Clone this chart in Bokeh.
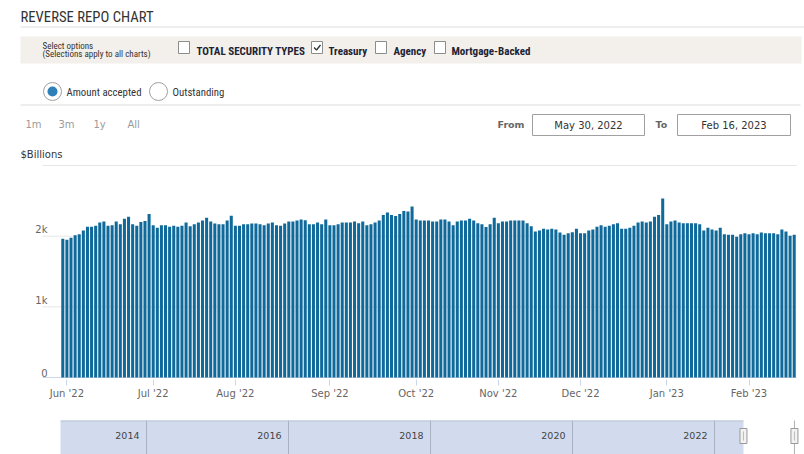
import pandas as pd
from bokeh.plotting import figure
from bokeh.layouts import column
from bokeh.models import Range1d, FixedTicker
from bokeh.core.properties import value
from bokeh.embed import file_html
from bokeh.resources import INLINE

# ---------------- data ----------------
holidays = ["2022-05-30", "2022-06-20", "2022-07-04", "2022-09-05", "2022-10-10",
            "2022-11-11", "2022-11-24", "2022-12-26", "2023-01-02", "2023-01-16"]
first_day = "2022-05-31"
last_day = "2023-02-16"

# Treasury reverse repo, amount accepted ($ billions), one value per operation day
amounts = [
    1962, 1948, 1976, 2014, 2028, 2080, 2132, 2132, 2147, 2194,
    2208, 2147, 2156, 2208, 2170, 2246, 2274, 2170, 2147, 2199,
    2213, 2312, 2156, 2118, 2156, 2156, 2132, 2147, 2132, 2147,
    2194, 2142, 2170, 2194, 2222, 2260, 2208, 2180, 2170, 2170,
    2222, 2288, 2147, 2147, 2170, 2170, 2180, 2180, 2170, 2156,
    2180, 2194, 2156, 2147, 2180, 2208, 2208, 2222, 2236, 2227,
    2170, 2170, 2194, 2170, 2236, 2156, 2156, 2170, 2194, 2194,
    2194, 2208, 2184, 2208, 2156, 2170, 2194, 2222, 2298, 2336,
    2298, 2284, 2312, 2355, 2350, 2421, 2236, 2222, 2222, 2222,
    2208, 2208, 2236, 2236, 2208, 2156, 2208, 2222, 2222, 2246,
    2222, 2184, 2170, 2128, 2170, 2260, 2184, 2208, 2208, 2222,
    2222, 2222, 2222, 2184, 2142, 2066, 2080, 2104, 2095, 2104,
    2095, 2052, 2019, 2043, 2057, 2104, 2043, 2043, 2080, 2095,
    2132, 2156, 2132, 2147, 2170, 2184, 2104, 2104, 2118, 2147,
    2194, 2208, 2194, 2208, 2274, 2298, 2534, 2170, 2208, 2222,
    2194, 2184, 2184, 2184, 2184, 2170, 2080, 2118, 2095, 2080,
    2118, 2028, 2019, 2019, 1991, 2028, 2043, 2028, 2043, 2028,
    2052, 2043, 2043, 2043, 2028, 2095, 2066, 2005, 2019,
]

y_tick_values = [0, 1000, 2000]
y_tick_labels = ["0", "1k", "2k"]
grid_values = [1000, 2000, 3000]

nav_years = [2014, 2016, 2018, 2020, 2022]
nav_data_start = "2012-10-16"
sel_start = "2022-05-30"
sel_end = "2023-02-16"

# ---------------- derived ----------------
dates = [d for d in pd.bdate_range(first_day, last_day) if d.strftime("%Y-%m-%d") not in holidays]
idx = list(range(len(dates)))
month_idx = [i for i in idx if i > 0 and dates[i].month != dates[i - 1].month]
month_lbl = {i: dates[i].strftime("%b '%y") for i in month_idx}


def dec_year(s):
    t = pd.Timestamp(s)
    y0 = pd.Timestamp(year=t.year, month=1, day=1)
    y1 = pd.Timestamp(year=t.year + 1, month=1, day=1)
    return t.year + (t - y0) / (y1 - y0)


NARROW = value("Roboto Condensed, DejaVu Sans Condensed, Roboto")
DJ = value("DejaVu Sans")
W = 804

# ---------------- header (page pixel coords) ----------------
hdr = figure(width=W, height=160, x_range=Range1d(0, 804), y_range=Range1d(160, 0),
             x_axis_type=None, y_axis_type=None, toolbar_location=None,
             output_backend="svg", min_border=0, outline_line_color=None)

hdr.text(x=[20], y=[16.5], text=["REVERSE REPO CHART"], text_font=NARROW,
         text_font_size="14.7px", text_color="#333333", text_baseline="middle")
hdr.segment(x0=[20, 20], x1=[804, 800], y0=[26.5, 104.5], y1=[26.5, 104.5],
            line_color="#dddddd", line_width=1)
hdr.quad(left=[20], right=[801], top=[36], bottom=[63], fill_color="#f3f0eb", line_color=None)
hdr.text(x=[42, 42], y=[45.5, 53.5], text=["Select options", "(Selections apply to all charts)"],
         text_font=NARROW, text_font_size="9px", text_color="#333333", text_baseline="middle")
hdr.rect(x=[183.5, 316.5, 380.5, 439.5], y=[47, 47, 47, 47], width=11, height=12,
         fill_color="white", line_color="#8c8c8c", line_width=1)
hdr.line(x=[313.5, 316, 320], y=[47, 49.5, 44.5], line_color="#333333", line_width=1.3)
hdr.text(x=[196, 328, 393, 451], y=[50.5] * 4,
         text=["TOTAL SECURITY TYPES", "Treasury", "Agency", "Mortgage-Backed"],
         text_font=NARROW, text_font_style="bold", text_font_size="11px",
         text_color="#222233", text_baseline="middle")

hdr.scatter(x=[52, 158], y=[91, 91], size=18, marker="circle",
            fill_color="white", line_color="#a0a0a0", line_width=1)
hdr.scatter(x=[52], y=[91], size=10, marker="circle", fill_color="#2f7fb8", line_color=None)
hdr.text(x=[66, 172], y=[91.5, 91.5], text=["Amount accepted", "Outstanding"],
         text_font=NARROW, text_font_size="10.8px", text_color="#333333", text_baseline="middle")

hdr.text(x=[25, 58, 93, 127], y=[123.5] * 4, text=["1m", "3m", "1y", "All"],
         text_font=DJ, text_font_size="10px", text_color="#9a9a9a", text_baseline="middle")
hdr.text(x=[497, 655], y=[123.5, 123.5], text=["From", "To"], text_font=DJ,
         text_font_style="bold", text_font_size="9.5px", text_color="#666666",
         text_baseline="middle")
hdr.quad(left=[532, 677], right=[644, 790], top=[114, 114], bottom=[135, 135],
         fill_color="white", line_color="#a0a0a0", line_width=1)
hdr.text(x=[588, 733.5], y=[124.5, 124.5], text=["May 30, 2022", "Feb 16, 2023"],
         text_font=DJ, text_font_size="10px", text_color="#333333",
         text_align="center", text_baseline="middle")
hdr.text(x=[20], y=[154], text=["$Billions"], text_font=DJ, text_font_size="10px",
         text_color="#333333", text_baseline="middle")

# ---------------- main chart ----------------
X0, X1 = -15.162, 180.506
grid_left, grid_right = -4.94, 178.6
ch = figure(width=W, height=244, x_range=Range1d(X0, X1), y_range=Range1d(-28.3, 3028.3),
            y_axis_type=None, toolbar_location=None, output_backend="svg",
            min_border_left=0, min_border_right=0, min_border_top=3, min_border_bottom=25,
            outline_line_color=None)
ch.xgrid.visible = False
ch.segment(x0=[grid_left] * len(grid_values), x1=[grid_right] * len(grid_values),
           y0=grid_values, y1=grid_values, line_color="#e6e6e6", line_width=1)
ch.segment(x0=[grid_left], x1=[grid_right], y0=[0], y1=[0], line_color="#ccd6eb", line_width=1)
ch.vbar(x=idx, top=amounts, bottom=0, width=0.74, fill_color="#0f6a9b", line_color=None)
ch.text(x=[grid_left] * 3, y=y_tick_values, text=y_tick_labels, x_offset=5, y_offset=-1,
        text_align="right", text_baseline="bottom", text_font=DJ, text_font_size="10px",
        text_color="#666666")

ax = ch.xaxis[0]
ax.ticker = FixedTicker(ticks=month_idx)
ax.major_label_overrides = month_lbl
ax.axis_line_color = None
ax.major_tick_line_color = "#ccd6eb"
ax.major_tick_in = 0
ax.major_tick_out = 6
ax.minor_tick_line_color = None
ax.major_label_standoff = 2
ax.major_label_text_font = "DejaVu Sans"
ax.major_label_text_font_size = "10px"
ax.major_label_text_color = "#666666"

# ---------------- navigator ----------------
ny0 = 2014 - 146 / 71.0
ny1 = 2014 + (804 - 146) / 71.0
nav = figure(width=W, height=50, x_range=Range1d(ny0, ny1), y_range=Range1d(454, 404),
             x_axis_type=None, y_axis_type=None, toolbar_location=None,
             output_backend="svg", min_border=0, outline_line_color=None)
a, b, c = dec_year(nav_data_start), dec_year(sel_start), dec_year(sel_end)
nav.quad(left=[a], right=[b], top=[420], bottom=[456], fill_color="#d1dbed", line_color=None)
nav.segment(x0=nav_years, x1=nav_years, y0=[420] * 5, y1=[456] * 5,
            line_color="#a9b1c1", line_width=1)
nav.segment(x0=[a], x1=[b], y0=[420.5], y1=[420.5], line_color="#bcc5d6", line_width=1)
nav.segment(x0=[c], x1=[c], y0=[420], y1=[456], line_color="#b0b0b0", line_width=1)
nav.text(x=nav_years, y=[435] * 5, text=[str(y) for y in nav_years], x_offset=-7,
         text_align="right", text_baseline="middle", text_font=DJ, text_font_size="9.5px",
         text_color="#444444")
nav.rect(x=[b, c], y=[435.5, 435.5], width=7, height=15, width_units="screen",
         height_units="screen", fill_color="#f2f2f2", line_color="#999999", line_width=1)
nav.segment(x0=[b, c], x1=[b, c], y0=[431, 431], y1=[440, 440], line_color="#bbbbbb")

layout = column(hdr, ch, nav, spacing=0)
open("out.html", "w").write(file_html(layout, INLINE))
